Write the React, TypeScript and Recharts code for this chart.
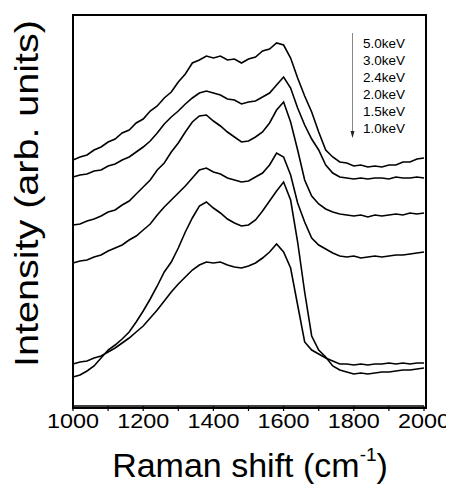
import React from "react";
import { LineChart, Line, XAxis, YAxis } from "recharts";

// Raman shift grid (cm-1)
const SHIFT = [
  1000, 1020, 1040, 1060, 1080, 1100, 1120, 1140, 1160, 1180,
  1200, 1220, 1240, 1260, 1280, 1300, 1320, 1340, 1360, 1380,
  1400, 1420, 1440, 1460, 1480, 1500, 1520, 1540, 1560, 1580,
  1600, 1620, 1640, 1660, 1680, 1700, 1720, 1740, 1760, 1780,
  1800, 1820, 1840, 1860, 1880, 1900, 1920, 1940, 1960, 1980, 2000,
];

// offset intensities, arb. units
const KEV_5_0 = [
  246, 249, 251, 256, 259, 264, 267, 273, 276, 283,
  287, 295, 300, 308, 314, 324, 332, 343, 346, 350,
  348, 350, 346, 347, 343, 347, 349, 355, 357, 363,
  361, 348, 328, 310, 294, 274, 256, 249, 244, 243,
  240, 241, 239, 240, 239, 241, 241, 244, 244, 247, 248,
];
const KEV_3_0 = [
  229, 231, 232, 235, 236, 240, 242, 246, 249, 254,
  259, 265, 273, 282, 289, 295, 302, 308, 313, 315,
  313, 311, 307, 306, 302, 304, 305, 309, 313, 321,
  329, 318, 298, 281, 267, 256, 241, 233, 229, 228,
  227, 228, 227, 228, 228, 227, 229, 228, 228, 229, 228,
];
const KEV_2_4 = [
  181, 182, 185, 187, 190, 194, 196, 201, 205, 212,
  219, 226, 236, 243, 254, 263, 274, 284, 290, 291,
  285, 280, 274, 269, 264, 265, 269, 274, 283, 296,
  304, 284, 256, 226, 210, 202, 197, 194, 192, 191,
  190, 191, 189, 191, 190, 191, 192, 191, 193, 192, 193,
];
const KEV_2_0 = [
  143, 145, 146, 149, 151, 155, 158, 161, 166, 170,
  176, 182, 191, 199, 206, 213, 220, 228, 236, 238,
  234, 232, 228, 226, 224, 225, 229, 233, 241, 253,
  249, 231, 203, 184, 168, 161, 157, 153, 150, 149,
  150, 148, 149, 150, 149, 150, 151, 151, 152, 153, 154,
];
const KEV_1_5 = [
  42, 44, 45, 48, 50, 54, 58, 63, 68, 74,
  80, 88, 96, 105, 114, 122, 129, 136, 141, 144,
  143, 144, 141, 139, 138, 140, 143, 148, 154, 162,
  154, 138, 101, 64, 56, 52, 48, 45, 42, 42,
  41, 42, 41, 42, 42, 43, 42, 43, 42, 43, 43,
];
const KEV_1_0 = [
  29, 31, 35, 40, 48, 56, 61, 67, 74, 84,
  95, 107, 120, 134, 144, 158, 174, 188, 200, 204,
  198, 193, 187, 183, 180, 181, 186, 195, 205, 215,
  224, 206, 164, 114, 70, 56, 49, 40, 36, 34,
  32, 33, 32, 33, 34, 34, 35, 36, 36, 37, 38,
];

const LEGEND = ["5.0keV", "3.0keV", "2.4keV", "2.0keV", "1.5keV", "1.0keV"];
const X_TICKS = [1000, 1100, 1200, 1300, 1400, 1500, 1600, 1700, 1800, 1900, 2000];

const data = SHIFT.map((x, i) => ({
  x,
  a: KEV_5_0[i],
  b: KEV_3_0[i],
  c: KEV_2_4[i],
  d: KEV_2_0[i],
  e: KEV_1_5[i],
  f: KEV_1_0[i],
}));

const FONT = "'Liberation Sans', Arial, sans-serif";
const W = 446;
const H = 480;
const M = { top: 7, right: 30, left: 65, bottom: 0 };
const X_AXIS_H = 82;

const XTick = (props: any) => {
  const { x, y, payload } = props;
  if (payload.value % 200 !== 0) return <g />;
  return (
    <text
      x={x}
      y={y + 15}
      textAnchor="middle"
      fontSize={20}
      fontFamily={FONT}
      fill="#000"
      textLength={52}
      lengthAdjust="spacingAndGlyphs"
    >
      {payload.value}
    </text>
  );
};

export default function App() {
  const plotW = W - M.left - M.right;
  const plotH = H - M.top - M.bottom - X_AXIS_H;
  return (
    <div style={{ position: "relative", width: W, height: H }}>
      <LineChart width={W} height={H} data={data} margin={M}>
        <XAxis
          dataKey="x"
          type="number"
          domain={[1000, 2000]}
          ticks={X_TICKS}
          interval={0}
          axisLine={{ stroke: "#000", strokeWidth: 1.5 }}
          tickLine={{ stroke: "#000", strokeWidth: 1.2 }}
          tickSize={5}
          tick={XTick}
          height={X_AXIS_H}
        />
        <YAxis hide domain={[0, 391]} />
        {["a", "b", "c", "d", "e", "f"].map((k) => (
          <Line
            key={k}
            dataKey={k}
            type="linear"
            stroke="#000"
            strokeWidth={1.6}
            dot={false}
            isAnimationActive={false}
          />
        ))}
      </LineChart>

      {/* plot frame */}
      <div
        style={{
          position: "absolute",
          left: M.left - 1,
          top: M.top - 1,
          width: plotW,
          height: plotH,
          border: "2px solid #000",
          boxSizing: "content-box",
          pointerEvents: "none",
          margin: -0.5,
        }}
      />

      {/* titles and the keV annotation */}
      <svg
        width={W}
        height={H}
        style={{ position: "absolute", left: 0, top: 0, pointerEvents: "none" }}
      >
        <text
          transform="translate(30,185.5) rotate(-90)"
          textAnchor="middle"
          fontSize={34}
          fontFamily={FONT}
          fill="#000"
          textLength={347}
          lengthAdjust="spacingAndGlyphs"
        >
          Intensity (arb. units)
        </text>
        <text x={242} y={468.5} textAnchor="middle" fontSize={34} fontFamily={FONT} fill="#000">
          Raman shift (cm
          <tspan fontSize={19} dy={-16}>-1</tspan>
          <tspan dy={16}>)</tspan>
        </text>
        <line x1={344.5} y1={25} x2={344.5} y2={125} stroke="#888" strokeWidth={1} />
        <path d="M342.5,123 L346.5,123 L344.5,130 Z" fill="#222" />
        {LEGEND.map((s, i) => (
          <text key={s} x={355} y={40 + i * 17} fontSize={13.5} fontFamily={FONT} fill="#000">
            {s}
          </text>
        ))}
      </svg>
    </div>
  );
}
